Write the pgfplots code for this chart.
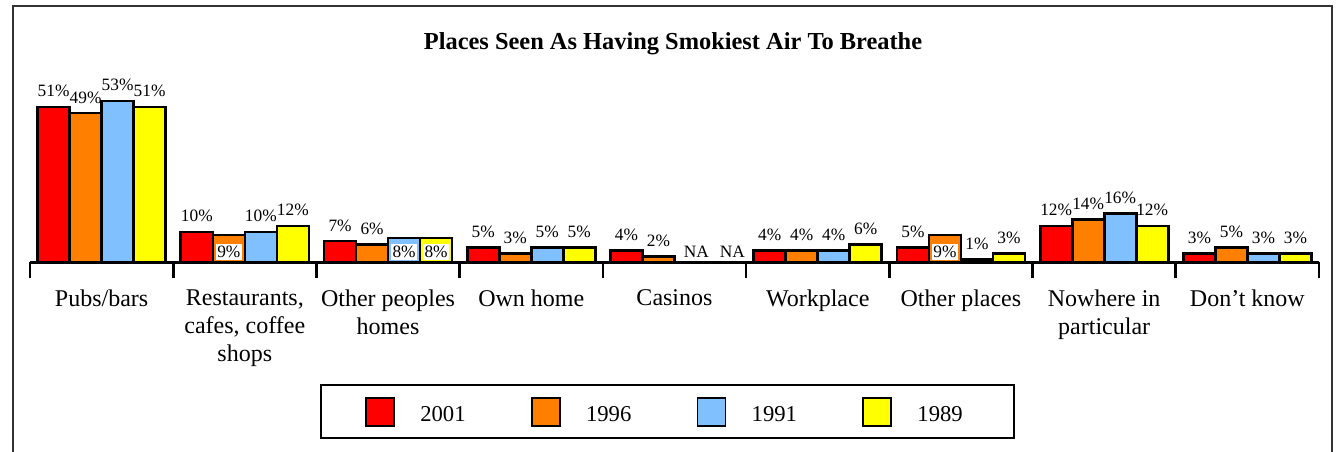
\documentclass[border=0pt]{standalone}
\usepackage{fontspec}
\setmainfont{Liberation Serif}
\usepackage{pgfplots}
\pgfplotsset{compat=1.18}
\definecolor{c2001}{RGB}{255,0,0}
\definecolor{c1996}{RGB}{255,128,0}
\definecolor{c1991}{RGB}{128,192,255}
\definecolor{c1989}{RGB}{255,255,0}
\tikzset{special/.style={font=\fontsize{13}{15}\selectfont, anchor=base, yshift=3.75pt,
                         inner xsep=1pt, inner ysep=1.5pt}}

\begin{document}
\begin{tikzpicture}
\useasboundingbox (0,0) rectangle (1004.25pt,338.25pt);
% outer frame (runs off the bottom edge)
\draw[line width=1pt, black!80] (9.75pt,-2pt) -- (9.75pt,333.75pt) -- (999pt,333.75pt) -- (999pt,-2pt);
\node[anchor=base, inner sep=0pt, font=\fontsize{18.3}{21}\selectfont\bfseries]
  at (504.75pt,301.5pt) {Places Seen As Having Smokiest Air To Breathe};

\begin{axis}[
    at={(22.5pt,141.4pt)}, anchor=south west,
    scale only axis, width=966.75pt, height=125.8pt,
    xmin=-0.5, xmax=8.5, ymin=0, ymax=55,
    clip=false,
    axis x line*=bottom, axis y line=none,
    x axis line style={line width=2.2pt},
    xtick={0,...,8},
    xticklabels={Pubs/bars, {Restaurants,\\cafes, coffee\\shops}, {Other peoples\\homes},
                 Own home, Casinos, Workplace, Other places, {Nowhere in\\particular}, Don't know},
    major tick length=0pt,
    minor xtick={-0.5,0.5,...,8.5},
    minor tick length=12pt,
    xtick align=outside,
    minor x tick style={line width=2pt, black},
    xticklabel style={font=\fontsize{18}{21}\selectfont, align=center, anchor=north,
                      inner sep=0pt, yshift=-20.5pt},
    ybar=0pt, bar width=24pt,
    every axis plot/.append style={draw=black, line width=2pt},
    nodes near coords,
    point meta=explicit symbolic,
    every node near coord/.append style={font=\fontsize{13}{15}\selectfont, anchor=base,
                                         inner sep=0pt, yshift=7.5pt, black},
]
% 2001
\addplot[fill=c2001] coordinates {
  (0,51) [51\%] (1,10) [10\%] (2,7) [7\%] (3,5) [5\%] (4,4) [4\%]
  (5,4) [4\%] (6,5) [5\%] (7,12) [12\%] (8,3) [3\%]};
% 1996
\addplot[fill=c1996] coordinates {
  (0,49) [49\%] (1,9) [] (2,6) [6\%] (3,3) [3\%] (4,2) [2\%]
  (5,4) [4\%] (6,9) [] (7,14) [14\%] (8,5) [5\%]};
% 1991 (casinos NA)
\addplot[fill=c1991] coordinates {
  (0,53) [53\%] (1,10) [10\%] (2,8) [] (3,5) [5\%]
  (5,4) [4\%] (6,1) [1\%] (7,16) [16\%] (8,3) [3\%]};
% 1989 (casinos NA)
\addplot[fill=c1989] coordinates {
  (0,51) [51\%] (1,12) [12\%] (2,8) [] (3,5) [5\%]
  (5,6) [6\%] (6,3) [3\%] (7,12) [12\%] (8,3) [3\%]};

% labels that sit inside the bars on a white patch
\node[special, fill=white, xshift=-12pt] at (axis cs:1,0) {9\%};
\node[special, fill=white, xshift=12pt]  at (axis cs:2,0) {8\%};
\node[special, fill=white, xshift=36pt]  at (axis cs:2,0) {8\%};
\node[special, fill=white, xshift=-12pt] at (axis cs:6,0) {9\%};
\node[special, xshift=16.5pt] at (axis cs:4,0) {NA};
\node[special, xshift=43.5pt] at (axis cs:4,0) {NA};
\end{axis}

% legend
\draw[line width=1.5pt] (240.75pt,9.75pt) rectangle (760.5pt,49.5pt);
\foreach \c/\yr [count=\k from 0] in {c2001/2001, c1996/1996, c1991/1991, c1989/1989} {
  \draw[line width=1.4pt, fill=\c] (274.5pt+\k*124.3pt,18.75pt) rectangle ++(21pt,21pt);
  \node[anchor=base west, inner sep=0pt, font=\fontsize{17}{20}\selectfont]
    at (315pt+\k*124.3pt,22.5pt) {\yr};
}
\end{tikzpicture}
\end{document}
